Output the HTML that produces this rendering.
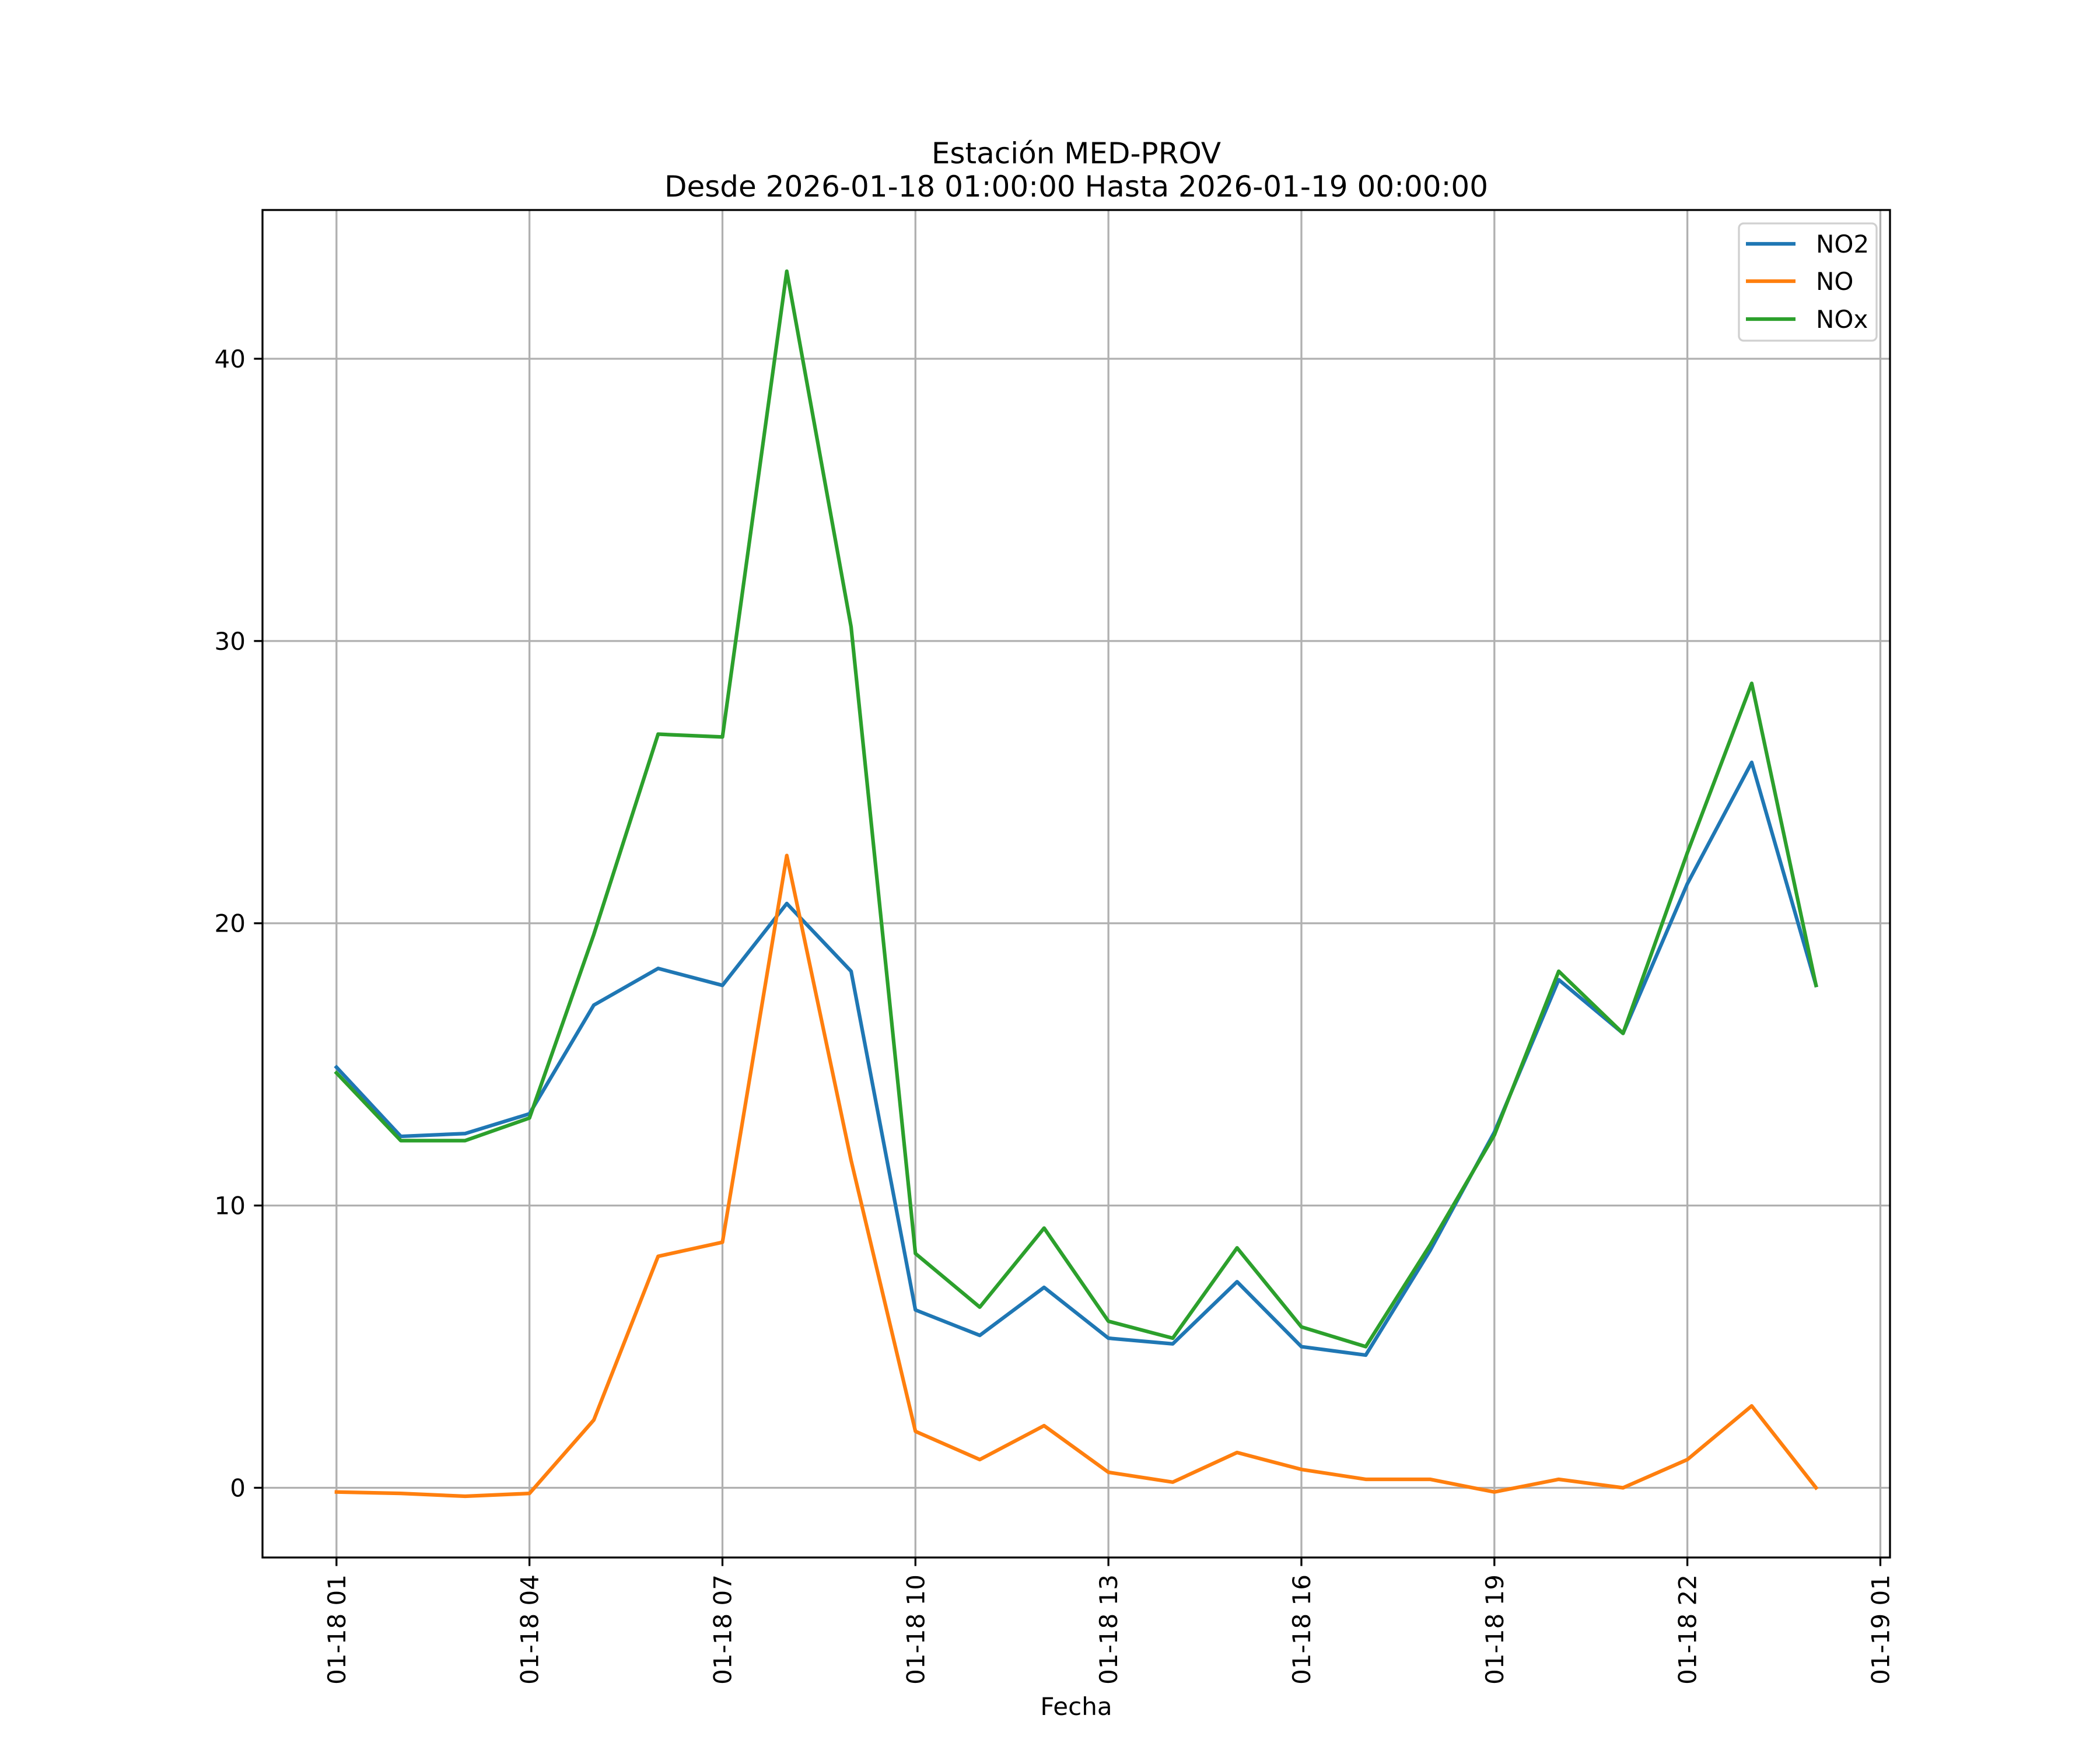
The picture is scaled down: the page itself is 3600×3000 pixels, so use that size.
<!DOCTYPE html>
<html><head><meta charset="utf-8"><style>body{margin:0;background:#fff}svg{display:block}text{font-family:"DejaVu Sans","Liberation Sans",sans-serif}</style></head>
<body>
<svg id="chart" width="3600" height="3000" xmlns="http://www.w3.org/2000/svg">
<rect width="3600" height="3000" fill="#fff"/>
<text x="1845" y="280" font-size="50" text-anchor="middle">Estación MED-PROV</text>
<text x="1845" y="337" font-size="50" text-anchor="middle">Desde 2026-01-18 01:00:00 Hasta 2026-01-19 00:00:00</text>
<g id="grid"></g><g id="series"></g><g id="axes"></g>
<text x="1845" y="2940" font-size="42" text-anchor="middle">Fecha</text>
<g>
<rect x="2981" y="383" width="236" height="201" rx="8" fill="#fff" fill-opacity="0.8" stroke="#d0d0d0" stroke-width="3.3"/>
<line x1="2993" y1="418" x2="3078" y2="418" stroke="#1f77b4" stroke-width="6.25"/><text x="3113" y="433" font-size="42">NO2</text>
<line x1="2993" y1="482" x2="3078" y2="482" stroke="#ff7f0e" stroke-width="6.25"/><text x="3113" y="497" font-size="42">NO</text>
<line x1="2993" y1="547" x2="3078" y2="547" stroke="#2ca02c" stroke-width="6.25"/><text x="3113" y="562" font-size="42">NOx</text>
</g>
</svg>
<script>
const no2 = [14.9,12.45,12.55,13.25,17.1,18.4,17.8,20.7,18.3,6.3,5.4,7.1,5.3,5.1,7.3,5.0,4.7,8.4,12.6,18.0,16.1,21.4,25.7,17.8];
const no = [-0.15,-0.2,-0.3,-0.2,2.4,8.2,8.7,22.4,11.6,2.0,1.0,2.2,0.55,0.2,1.25,0.65,0.3,0.3,-0.15,0.3,0.0,1.0,2.9,0.0];
const nox = [14.7,12.3,12.3,13.1,19.6,26.7,26.6,43.1,30.5,8.3,6.4,9.2,5.9,5.3,8.5,5.7,5.0,8.6,12.5,18.3,16.1,22.5,28.5,17.8];
const xTickIdx = [0,3,6,9,12,15,18,21,24];
const xTickLabels = ["01-18 01","01-18 04","01-18 07","01-18 10","01-18 13","01-18 16","01-18 19","01-18 22","01-19 01"];
const yTicks = [0,10,20,30,40];

const L=450,R=3240,T=360,B=2670;
const all=no2.concat(no,nox);
const ymin=Math.min(...all),ymax=Math.max(...all),ym=(ymax-ymin)*0.05;
const y0=ymin-ym,y1=ymax+ym;
const n=no2.length,xm=(n-1)*0.05,x0=-xm,x1=n-1+xm;
const sx=i=>L+(i-x0)/(x1-x0)*(R-L);
const sy=v=>B-(v-y0)/(y1-y0)*(B-T);
const NS="http://www.w3.org/2000/svg";
function mk(tag,attrs,parent){const e=document.createElementNS(NS,tag);for(const k in attrs)e.setAttribute(k,attrs[k]);parent.appendChild(e);return e;}
const grid=document.getElementById('grid'),ser=document.getElementById('series'),ax=document.getElementById('axes');
xTickIdx.forEach((t,k)=>{
  const x=sx(t);
  const g=mk('line',{x1:x,x2:x,y1:T,y2:B,stroke:'#b0b0b0','stroke-width':3.3},grid);
  
  
  const tk=mk('line',{x1:x,x2:x,y1:B,y2:B+14.6,stroke:'#000','stroke-width':3.3},ax);
  
  
  const tx=mk('text',{x:0,y:0,'font-size':42,'text-anchor':'end',transform:`translate(${x+15},${B+29}) rotate(-90)`},ax);
  tx.textContent=xTickLabels[k];
  
  
});
yTicks.forEach(v=>{
  const y=sy(v);
  const g=mk('line',{x1:L,x2:R,y1:y,y2:y,stroke:'#b0b0b0','stroke-width':3.3},grid);
  
  
  const tk=mk('line',{x1:L-14.6,x2:L,y1:y,y2:y,stroke:'#000','stroke-width':3.3},ax);
  
  
  const tx=mk('text',{x:L-29,y:y+15,'font-size':42,'text-anchor':'end'},ax);
  tx.textContent=v;
  
  
});
[[no2,'#1f77b4','no2-line'],[no,'#ff7f0e','no-line'],[nox,'#2ca02c','nox-line']].forEach(([d,c,name])=>{
  const p=mk('polyline',{points:d.map((v,i)=>sx(i)+','+sy(v)).join(' '),fill:'none',stroke:c,'stroke-width':6.25,'stroke-linejoin':'round','stroke-linecap':'square'},ser);
  
  
});
const fr=mk('rect',{x:L,y:T,width:R-L,height:B-T,fill:'none',stroke:'#000','stroke-width':3.3},ax);


</script>
</body></html>
